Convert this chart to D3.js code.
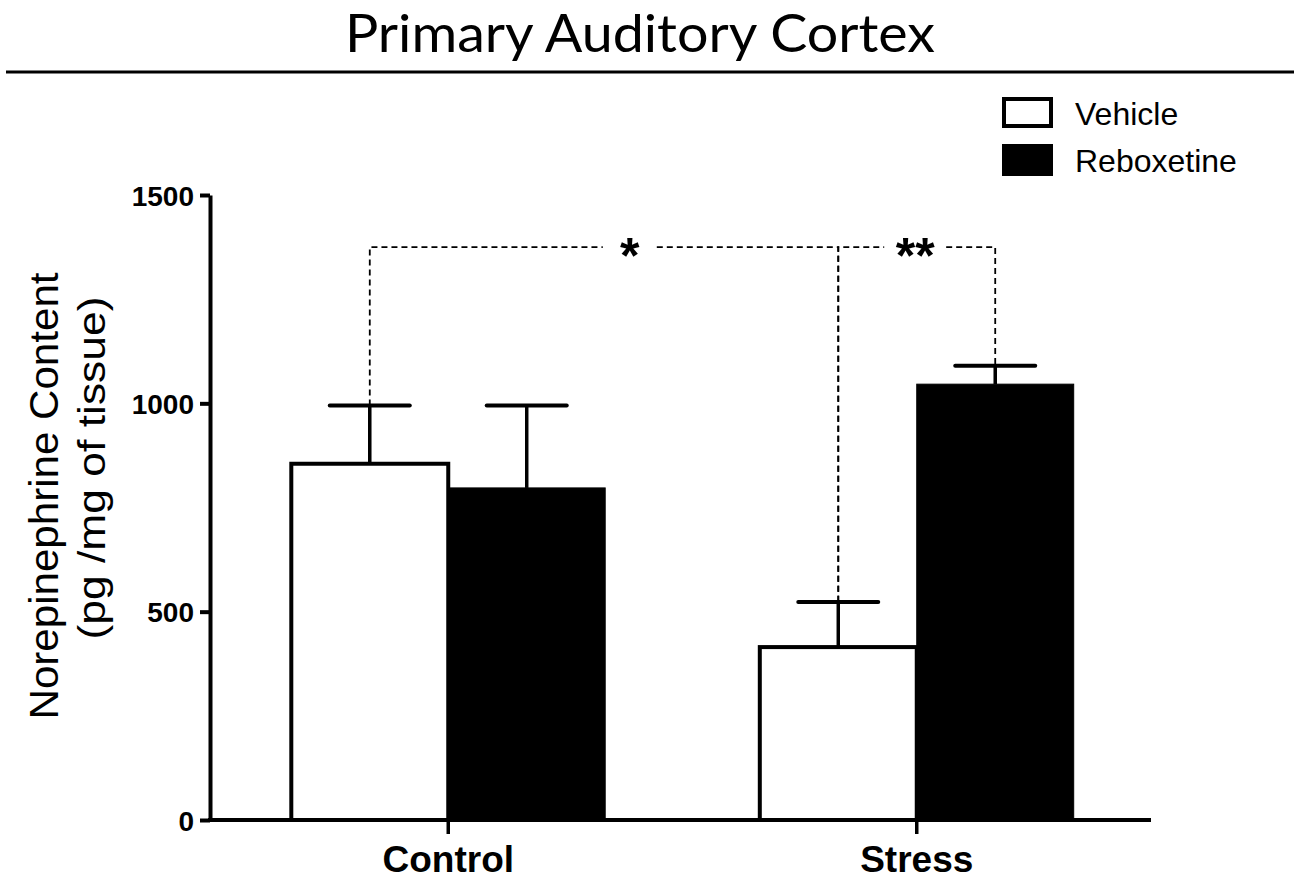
<!DOCTYPE html>
<html>
<head>
<meta charset="utf-8">
<script src="https://cdn.jsdelivr.net/npm/d3@7"></script>
<style>
  html, body { margin: 0; padding: 0; background: #fff; }
  svg { display: block; }
</style>
</head>
<body>
<svg id="chart" width="1300" height="881"></svg>
<script>
// ---- data ----
const categories = ["Control", "Stress"];
const seriesNames = ["Vehicle", "Reboxetine"];
const vehicleMean = [855, 415];
const vehicleSEM = [140, 108];
const reboxetineMean = [797, 1046];
const reboxetineSEM = [198, 44];
const yTicks = [0, 500, 1000, 1500];
const comparisons = [
  { a: ["Control", "Vehicle"], b: ["Stress", "Vehicle"], label: "*", level: 1375, labelAt: 0.555 },
  { a: ["Stress", "Vehicle"], b: ["Stress", "Reboxetine"], label: "**", level: 1375, labelAt: 0.49 }
];
const titleText = "Primary Auditory Cortex";
const yLabel1 = "Norepinephrine Content";
const yLabel2 = "(pg /mg of tissue)";

// ---- build ----
const means = { Vehicle: vehicleMean, Reboxetine: reboxetineMean };
const sems = { Vehicle: vehicleSEM, Reboxetine: reboxetineSEM };
const fills = { Vehicle: "#ffffff", Reboxetine: "#000000" };
const rows = [];
categories.forEach((c, i) => seriesNames.forEach(s => rows.push({ cat: c, series: s, mean: means[s][i], sem: sems[s][i] })));

const svg = d3.select("#chart");
const axisX = 210;
const y = d3.scaleLinear().domain([0, 1500]).range([820, 195]);
const x0 = d3.scaleBand().domain(categories).range([214, 1151]).paddingInner(0.33).paddingOuter(0.165);
const x1 = d3.scaleBand().domain(seriesNames).range([0, x0.bandwidth()]).padding(0);
const cx = (c, s) => x0(c) + x1(s) + x1.bandwidth() / 2;
const rowOf = (c, s) => rows.find(r => r.cat === c && r.series === s);
const sans = "'Liberation Sans', Arial, sans-serif";

// Title
svg.append("text")
  .attr("x", 640).attr("y", 52)
  .attr("text-anchor", "middle")
  .attr("font-family", "Lato, 'Open Sans', sans-serif")
  .attr("font-size", 52)
  .attr("fill", "#000")
  .attr("textLength", 590).attr("lengthAdjust", "spacingAndGlyphs")
  .text(titleText);
svg.append("line")
  .attr("x1", 6).attr("x2", 1294).attr("y1", 72).attr("y2", 72)
  .attr("stroke", "#000").attr("stroke-width", 3);

// Bars
const g = svg.append("g");
g.selectAll("rect.bar").data(rows).join("rect")
  .attr("class", "bar")
  .attr("x", d => x0(d.cat) + x1(d.series))
  .attr("y", d => y(d.mean))
  .attr("width", x1.bandwidth())
  .attr("height", d => y(0) - y(d.mean))
  .attr("fill", d => fills[d.series])
  .attr("stroke", "#000")
  .attr("stroke-width", d => d.series === "Vehicle" ? 4 : 1);

// Error bars (upper)
const capW = 80;
g.selectAll("line.err").data(rows).join("line")
  .attr("x1", d => cx(d.cat, d.series)).attr("x2", d => cx(d.cat, d.series))
  .attr("y1", d => y(d.mean)).attr("y2", d => y(d.mean + d.sem))
  .attr("stroke", "#000").attr("stroke-width", 3.5);
g.selectAll("line.cap").data(rows).join("line")
  .attr("x1", d => cx(d.cat, d.series) - capW / 2).attr("x2", d => cx(d.cat, d.series) + capW / 2)
  .attr("y1", d => y(d.mean + d.sem)).attr("y2", d => y(d.mean + d.sem))
  .attr("stroke", "#000").attr("stroke-width", 4).attr("stroke-linecap", "round");

// Y axis
const yAxis = svg.append("g").attr("transform", `translate(${axisX},0)`)
  .call(d3.axisLeft(y).tickValues(yTicks).tickSize(10).tickSizeOuter(0).tickPadding(6).tickFormat(d3.format("d")));
yAxis.select(".domain").attr("stroke-width", 4);
yAxis.selectAll(".tick line").attr("stroke-width", 4);
yAxis.selectAll(".tick text")
  .attr("font-family", sans)
  .attr("font-weight", "bold").attr("font-size", 28).attr("fill", "#000")
  .attr("dy", "0.36em");

// X axis
const xAxis = svg.append("g").attr("transform", `translate(0,${y(0)})`)
  .call(d3.axisBottom(x0).tickSize(14).tickSizeOuter(0).tickPadding(12));
xAxis.select(".domain").remove();
xAxis.append("line")
  .attr("x1", axisX - 2).attr("x2", x0.range()[1]).attr("y1", 0).attr("y2", 0)
  .attr("stroke", "#000").attr("stroke-width", 4);
xAxis.selectAll(".tick line").attr("stroke-width", 3.5);
xAxis.selectAll(".tick text")
  .attr("font-family", sans)
  .attr("font-weight", "bold").attr("font-size", 37).attr("fill", "#000");

// Y axis labels
svg.append("text")
  .attr("transform", "translate(58,496) rotate(-90)")
  .attr("text-anchor", "middle")
  .attr("font-family", sans)
  .attr("font-size", 40).attr("fill", "#000")
  .attr("textLength", 447).attr("lengthAdjust", "spacingAndGlyphs")
  .text(yLabel1);
svg.append("text")
  .attr("transform", "translate(105,468) rotate(-90)")
  .attr("text-anchor", "middle")
  .attr("font-family", sans)
  .attr("font-size", 38).attr("fill", "#000")
  .attr("textLength", 343).attr("lengthAdjust", "spacingAndGlyphs")
  .text(yLabel2);

// Significance brackets
const sig = svg.append("g");
comparisons.forEach(cmp => {
  const ra = rowOf(cmp.a[0], cmp.a[1]);
  const rb = rowOf(cmp.b[0], cmp.b[1]);
  const xa = cx(cmp.a[0], cmp.a[1]);
  const xb = cx(cmp.b[0], cmp.b[1]);
  const yl = y(cmp.level);
  const xl = xa + (xb - xa) * cmp.labelAt;
  const gap = cmp.label.length > 1 ? 31 : 27;
  const dash = { stroke: "#000", "stroke-width": 1.8, "stroke-dasharray": "6,4", fill: "none" };
  const segs = [
    [[xa, y(ra.mean + ra.sem)], [xa, yl], [xl - gap, yl]],
    [[xl + gap, yl], [xb, yl], [xb, y(rb.mean + rb.sem)]]
  ];
  segs.forEach(pts => {
    const p = sig.append("path").attr("d", d3.line()(pts));
    Object.entries(dash).forEach(([k, v]) => p.attr(k, v));
  });
  sig.append("text")
    .attr("x", xl).attr("y", yl + 26)
    .attr("text-anchor", "middle")
    .attr("font-family", sans)
    .attr("font-weight", "bold").attr("font-size", 50).attr("fill", "#000")
    .text(cmp.label);
});

// Legend
const legend = svg.append("g").attr("transform", "translate(1002,97)");
seriesNames.forEach((s, i) => {
  const gy = i * 47;
  legend.append("rect")
    .attr("x", s === "Vehicle" ? 2 : 0).attr("y", gy + (s === "Vehicle" ? 2 : 0))
    .attr("width", s === "Vehicle" ? 47 : 51).attr("height", s === "Vehicle" ? 27 : 32)
    .attr("fill", fills[s]).attr("stroke", "#000").attr("stroke-width", s === "Vehicle" ? 4 : 0);
  legend.append("text")
    .attr("x", 73).attr("y", gy + 28)
    .attr("font-family", sans)
    .attr("font-size", 32).attr("fill", "#000")
    .text(s);
});
</script>
</body>
</html>
